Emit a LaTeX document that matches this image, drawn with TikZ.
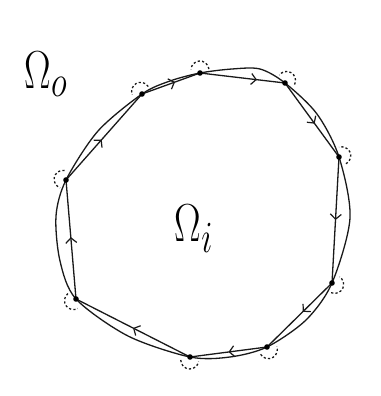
\documentclass[tikz,border=0pt]{standalone}
\usetikzlibrary{arrows.meta,decorations.markings,calc}
\tikzset{
  ink/.style={line width=1.3pt, black!90, line cap=round, line join=round},
  vdot/.style={fill=black},
  dotarc/.style={line width=1.3pt, black!90, dash pattern=on 2.2pt off 2.2pt},
  edgearrow/.style={ink, postaction={decorate}, decoration={markings,
     mark=at position #1 with {\arrow{Straight Barb[length=5pt,width=11pt,line width=1.2pt]}}}},
  edgearrow/.default=0.5,
  lbl/.style={font=\Huge, inner sep=0pt}
}
\newcommand\vtxarc[2]{\draw[dotarc] (#1) ++(#2:3) ++(#2-85:9) arc[start angle=#2-85, end angle=#2+85, radius=9];}
\newcommand\biglbl[1]{\scalebox{1.6}[2.15]{$#1$}}
\begin{document}
\begin{tikzpicture}[x=1pt,y=1pt]
\useasboundingbox (0,0) rectangle (380,396);
% vertices
\coordinate (p1) at (142,302);
\coordinate (p2) at (200,323);
\coordinate (p3) at (285,313);
\coordinate (p4) at (339,239);
\coordinate (p5) at (332,113);
\coordinate (p6) at (267,49);
\coordinate (p7) at (190,39);
\coordinate (p8) at (76,97);
\coordinate (p9) at (66,216);
% outer curve helper points
\coordinate (m12) at (170,315);
\coordinate (m23a) at (232,327);
\coordinate (m23b) at (260,327);
\coordinate (m34) at (317,282);
\coordinate (m45) at (350,178);
\coordinate (m56) at (306,76);
\coordinate (m67) at (230,39);
\coordinate (m78) at (128,60);
\coordinate (m89b) at (60,135);
\coordinate (m89a) at (56,180);
\coordinate (m91) at (98,265);
% outer boundary
\draw[ink] plot[smooth cycle, tension=0.5] coordinates {(p1) (m12) (p2) (m23a) (m23b) (p3) (m34) (p4) (m45) (p5) (m56) (p6) (m67) (p7) (m78) (p8) (m89b) (m89a) (p9) (m91)};
% polygon edges with arrows
\draw[edgearrow=0.57] (p1) -- (p2);
\draw[edgearrow=0.67] (p2) -- (p3);
\draw[edgearrow=0.55] (p3) -- (p4);
\draw[edgearrow] (p4) -- (p5);
\draw[edgearrow=0.45] (p5) -- (p6);
\draw[edgearrow] (p6) -- (p7);
\draw[edgearrow] (p7) -- (p8);
\draw[edgearrow=0.52] (p8) -- (p9);
\draw[edgearrow=0.47] (p9) -- (p1);
% vertex dots
\foreach \p in {p1,p2,p3,p4,p5,p6,p7,p8,p9} \fill[vdot] (\p) circle (2.8);
% dashed arcs around vertices
\vtxarc{p1}{117}
\vtxarc{p2}{91}
\vtxarc{p3}{58}
\vtxarc{p4}{23}
\vtxarc{p5}{-28}
\vtxarc{p6}{-64}
\vtxarc{p7}{-95}
\vtxarc{p8}{213}
\vtxarc{p9}{166}
% labels
\node[lbl] (lo) at (46,322) {\biglbl{\Omega_o}};
\node[lbl] (li) at (194,167) {\biglbl{\Omega_i}};
\end{tikzpicture}
\end{document}
